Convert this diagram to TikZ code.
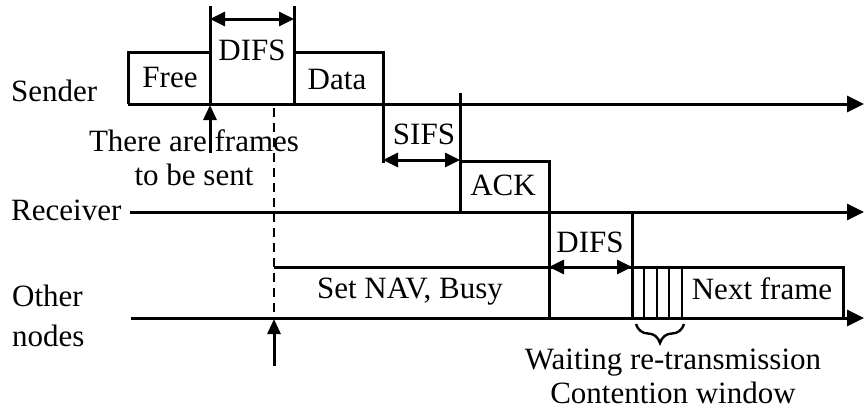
\documentclass[tikz,border=0pt]{standalone}
\usepackage{fontspec}
\setmainfont{Liberation Serif}
\usetikzlibrary{arrows.meta,decorations.pathreplacing}
\begin{document}
\begin{tikzpicture}[x=1pt,y=-1pt,
  wire/.style={line width=3pt},
  axis/.style={wire,-{Triangle[length=17pt,width=16pt]}},
  span/.style={wire,{Triangle[length=15pt,width=14pt]}-{Triangle[length=15pt,width=14pt]}},
  uparrow/.style={wire,-{Triangle[length=15pt,width=13pt]}},
  lbl/.style={font=\fontsize{31}{34}\selectfont,inner sep=0pt,anchor=base},
  hatch/.style={line width=2.6pt}]
\useasboundingbox (0,0) rectangle (864,413);

% time axes
\coordinate (sS) at (128,104); \coordinate (sE) at (864,104);
\coordinate (rS) at (130,212); \coordinate (rE) at (864,212);
\coordinate (oS) at (131,318); \coordinate (oE) at (864,318);
\draw[axis] (sS) -- (sE);
\draw[axis] (rS) -- (rE);
\draw[axis] (oS) -- (oE);

% sender: Free, DIFS, Data
\draw[wire] (sS) -- (128,52) -- (210,52);
\draw[wire] (210,6) -- (210,104);
\draw[wire] (294,6) -- (294,104);
\draw[span] (210,19) -- (294,19);
\draw[wire] (294,52) -- (383,52) -- (383,163);

% SIFS and ACK
\draw[span] (383,160) -- (460,160);
\draw[wire] (460,93) -- (460,212);
\draw[wire] (460,161) -- (549,161) -- (549,318);

% DIFS before the contention window
\draw[wire] (632,212) -- (632,318);
\draw[span] (549,267) -- (632,267);

% NAV period and next frame
\draw[wire] (274,267) -- (843,267) -- (843,318);
\foreach \x in {644,657,669,682}
  \draw[hatch] (\x,267) -- (\x,318);

% dashed marker and arrows
\draw[line width=2.4pt,dash pattern=on 9pt off 6pt] (274,108) -- (274,318);
\draw[uparrow] (274,366) -- (274,319);
\draw[uparrow] (210,153) -- (210,105);

% contention window brace
\draw[line width=2.4pt,decorate,decoration={brace,mirror,amplitude=19pt}] (636,324) -- (684,324);

% labels
\node[lbl] (free) at (170,87) {Free};
\node[lbl] (difs1) at (252,60) {DIFS};
\node[lbl] (data) at (337,89) {Data};
\node[lbl] (sifs) at (424,144) {SIFS};
\node[lbl] (ack) at (503,195) {ACK};
\node[lbl] (difs2) at (590,252) {DIFS};
\node[lbl] (nav) at (410,298) {Set NAV, Busy};
\node[lbl] (next) at (762,299) {Next frame};
\node[lbl,anchor=base west] (sender) at (11,101) {Sender};
\node[lbl,anchor=base west] (receiver) at (11,220) {Receiver};
% multi-line nodes: the base anchor sits on the last line
\node[lbl,anchor=base west,align=left] (other) at (12,346) {Other\\[6pt]nodes};
\node[lbl,align=center] (frames) at (194,185) {There are frames\\to be sent};
\node[lbl,align=center] (wait) at (673,403) {Waiting re-transmission\\Contention window};
\end{tikzpicture}
\end{document}
